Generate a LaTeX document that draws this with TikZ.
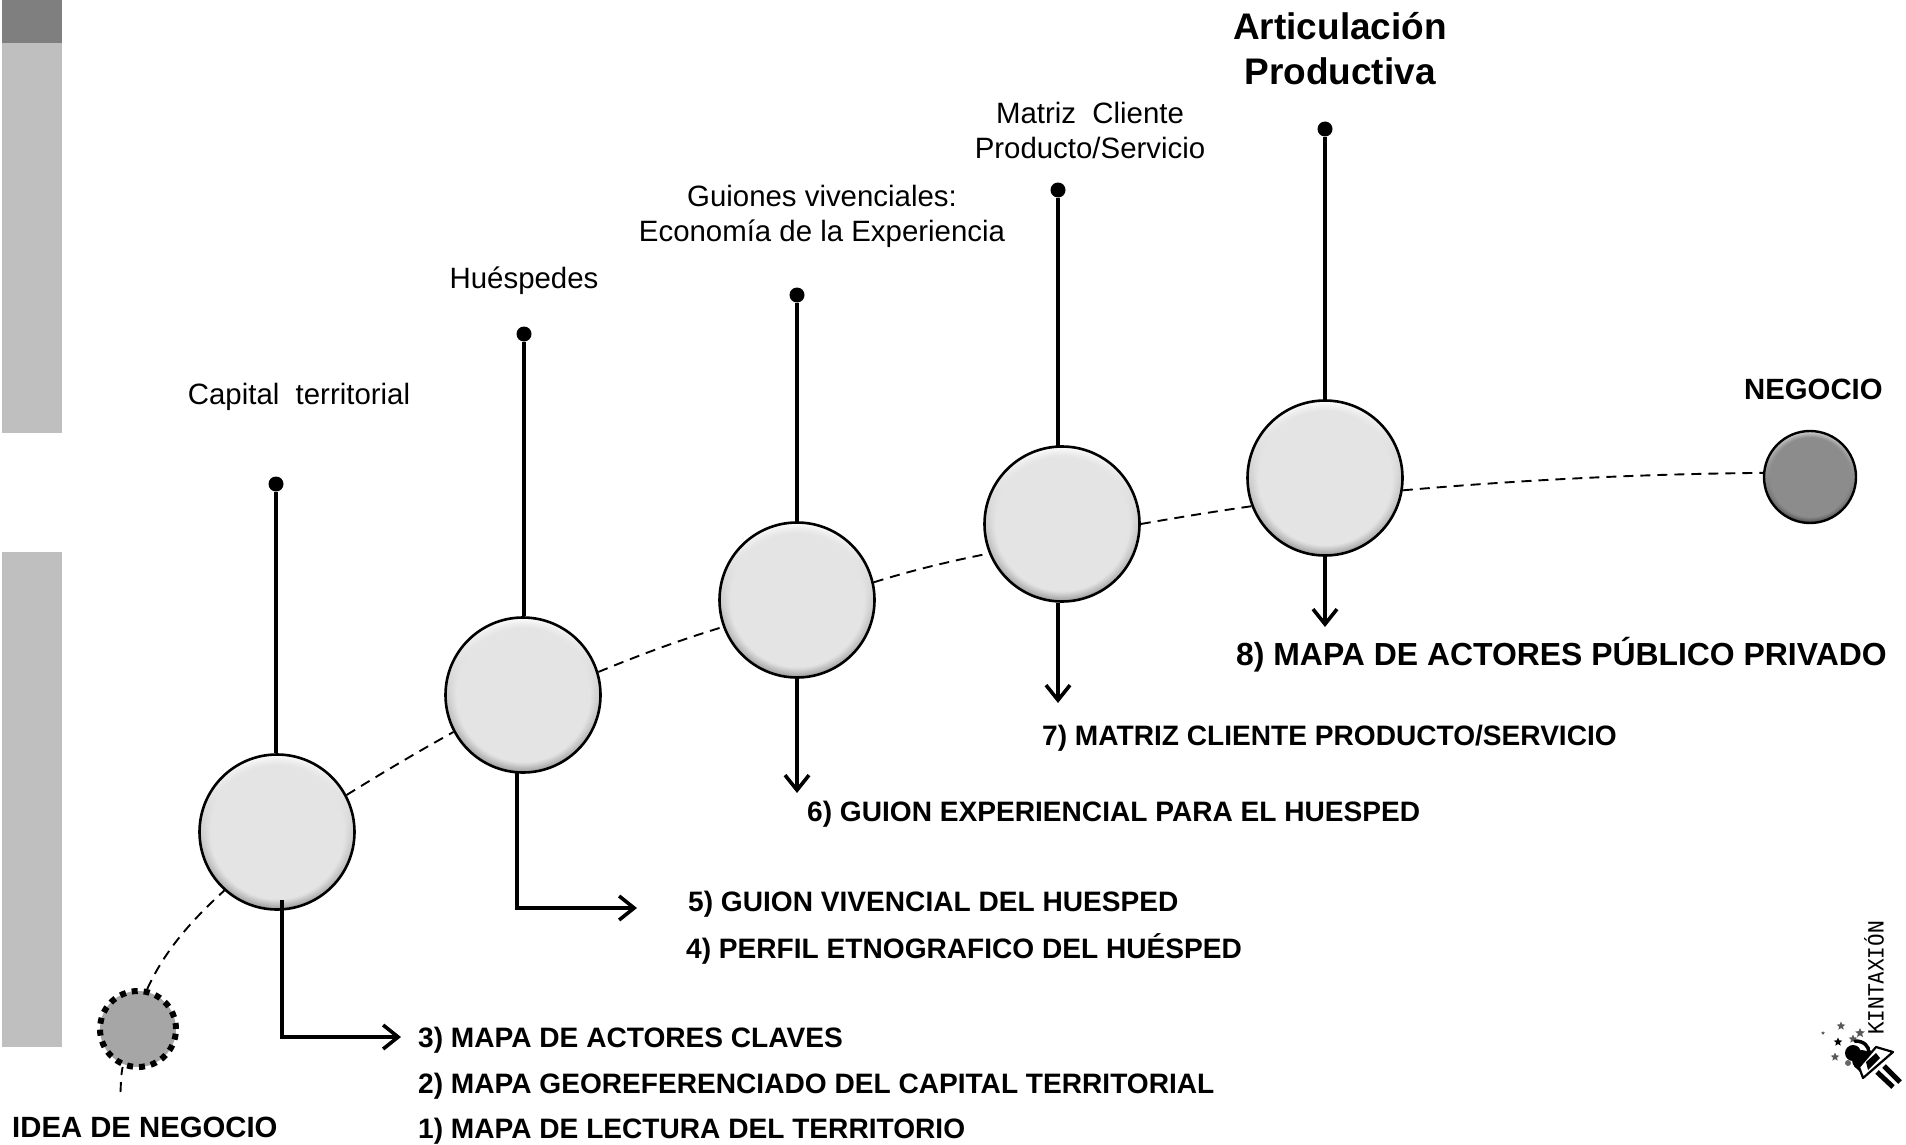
\documentclass[tikz,border=0pt]{standalone}
\usepackage{fontspec}
\setmainfont{Liberation Sans}
\newfontfamily\logofont{DejaVu Sans Mono}
\usetikzlibrary{arrows.meta,shapes.geometric,fadings,backgrounds}
\pgfdeclareradialshading{rimshade}{\pgfpointorigin}{color(0bp)=(pgftransparent!0);color(21.5bp)=(pgftransparent!0);color(25bp)=(pgftransparent!100);color(50bp)=(pgftransparent!100)}
\pgfdeclarefading{rim}{\pgfuseshading{rimshade}}
\definecolor{ballface}{HTML}{E4E4E4}
\definecolor{endface}{HTML}{8C8C8C}
\definecolor{ideaface}{HTML}{A6A6A6}
\definecolor{barlight}{HTML}{BFBFBF}
\definecolor{bardark}{HTML}{7F7F7F}
\tikzset{
  x=1pt,y=-1pt,
  ball/.style={circle,draw=black,line width=2.6pt,minimum size=155pt,inner sep=0pt,top color=white,bottom color=black!42,
    path picture={\fill[ballface,path fading=rim,fit fading=true] (path picture bounding box.south west) rectangle (path picture bounding box.north east);}},
  endball/.style={circle,draw=black,line width=2.4pt,minimum size=92pt,inner sep=0pt,top color=black!15,bottom color=black!75,
    path picture={\fill[endface,path fading=rim,fit fading=true] (path picture bounding box.south west) rectangle (path picture bounding box.north east);}},
  ideaball/.style={circle,fill=ideaface,draw=black,line width=6pt,dash pattern=on 6pt off 6pt,minimum size=76pt,inner sep=0pt},
  dot/.style={circle,fill=black,minimum size=15pt,inner sep=0pt},
  stem/.style={line width=3.4pt,black},
  arrowline/.style={line width=3.6pt,black,-{Straight Barb[length=15pt,width=24pt,line width=3.6pt]}},
  trail/.style={line width=1.9pt,black,dash pattern=on 10pt off 7pt},
  lab/.style={anchor=west,inner sep=0pt,font=\fontsize{28.1}{33}\selectfont\bfseries},
  note/.style={align=center,inner sep=0pt,font=\fontsize{29.4}{35}\selectfont},
  star1/.style={star,star points=5,star point ratio=2.2,fill=black!65,inner sep=0pt,minimum size=9pt},
}
\begin{document}
\begin{tikzpicture}
\useasboundingbox (0,0) rectangle (1906,1145);
\fill[white] (0,0) rectangle (1906,1145);
% side bars
\fill[bardark] (2,0) rectangle (62,43);
\fill[barlight] (2,43) rectangle (62,433);
\fill[barlight] (2,552) rectangle (62,1047);
% stops
\node[ball] (c1) at (277,832) {};
\node[ball] (c2) at (523,695) {};
\node[ball] (c3) at (797,600) {};
\node[ball] (c4) at (1062,524) {};
\node[ball] (c5) at (1325,478) {};
\node[endball] (goal) at (1810,477) {};
\node[ideaball] (idea) at (138,1029) {};
\coordinate (tail) at (120.5,1092);
% trail
\draw[trail] (tail) .. controls (121,1082) and (121,1075) .. (idea.248);
\draw[trail] (idea.77) .. controls (165,950) and (192,920) .. (c1.228);
\draw[trail] (c1.28) .. controls (382,773) and (414,754) .. (c2.208);
\draw[trail] (c2.17) .. controls (642,654) and (680,640) .. (c3.200);
\draw[trail] (c3.13) .. controls (913,570) and (951,561) .. (c4.202);
\draw[trail] (c4.0) .. controls (1175,518) and (1211,512) .. (c5.201);
\draw[trail] (c5.-9) .. controls (1520,480) and (1640,474) .. (goal.175);
% dots and stems
\node[dot] (d1) at (276,484) {};
\node[dot] (d2) at (524,334) {};
\node[dot] (d3) at (797,295) {};
\node[dot] (d4) at (1058,190) {};
\node[dot] (d5) at (1325,129) {};
\draw[stem] (d1) -- (d1 |- c1.north);
\draw[stem] (d2) -- (d2 |- c2.north);
\draw[stem] (d3) -- (d3 |- c3.north);
\draw[stem] (d4) -- (d4 |- c4.104);
\draw[stem] (d5) -- (c5.north);
% arrows
\coordinate (s1) at (282,900); \coordinate (e1) at (401,1037);
\coordinate (s2) at (517,771); \coordinate (e2) at (637,908);
\coordinate (e3) at (797,793);
\coordinate (e4) at (1058,703);
\coordinate (e5) at (1325,627);
\draw[arrowline] (s1) |- (e1);
\draw[arrowline] (s2) |- (e2);
\draw[arrowline] (c3.south) -- (e3);
\draw[arrowline] (c4.south -| e4) -- (e4);
\draw[arrowline] (c5.south) -- (e5);
% labels
\node[lab] (t3) at (418,1040) {3) MAPA DE ACTORES CLAVES};
\node[lab] (t2) at (418,1086) {2) MAPA GEOREFERENCIADO DEL CAPITAL TERRITORIAL};
\node[lab] (t1) at (418,1131) {1) MAPA DE LECTURA DEL TERRITORIO};
\node[lab] (t5) at (688,904) {5) GUION VIVENCIAL DEL HUESPED};
\node[lab] (t4) at (686,949) {4) PERFIL ETNOGRAFICO DEL HUÉSPED};
\node[lab] (t6) at (807,814) {6) GUION EXPERIENCIAL PARA EL HUESPED};
\node[lab] (t7) at (1042,738) {7) MATRIZ CLIENTE PRODUCTO/SERVICIO};
\node[lab,font=\fontsize{31.9}{36}\selectfont\bfseries] (t8) at (1236,655) {8) MAPA DE ACTORES PÚBLICO PRIVADO};
\node[lab,font=\fontsize{29.3}{33}\selectfont\bfseries] (tidea) at (12,1127) {IDEA DE NEGOCIO};
\node[lab,font=\fontsize{29.3}{33}\selectfont\bfseries] (tgoal) at (1744,389) {NEGOCIO};
\node[note] (n1) at (299,397) {Capital\ \ territorial};
\node[note] (n2) at (524,281) {Huéspedes};
\node[note] (n3) at (822,216) {Guiones vivenciales:\\Economía de la Experiencia};
\node[note] (n4) at (1090,130) {Matriz\ \ Cliente\\Producto/Servicio};
\node[note,font=\fontsize{37}{45}\selectfont\bfseries] (n5) at (1340,49) {Articulación\\Productiva};
% logo
\node[rotate=90,inner sep=0pt,font=\logofont\fontsize{21}{21}\selectfont] (logo) at (1874,978) {KINTAXIÓN};
\node[star1] (st1) at (1841,1026) {};
\node[star1,minimum size=4pt] (st2) at (1823,1033) {};
\node[star1,minimum size=10pt] (st3) at (1860,1033) {};
\node[star1] (st4) at (1853,1039) {};
\node[star1,fill=black] (st5) at (1838,1042) {};
\node[star1] (st6) at (1835,1057) {};
\draw[line width=3.5pt,line cap=round] (1855,1041) .. controls (1864,1041) and (1869,1046) .. (1869,1053);
\fill[black] (1853,1053) circle (8pt);
\fill[black] (1862,1060) circle (10pt);
\fill[black] (1870,1050) -- (1878,1060) -- (1862,1074) -- (1854,1066) -- cycle;
\draw[line width=2.2pt,fill=white,line join=round] (1876,1047) -- (1893,1052) -- (1863,1078) -- (1859,1067) -- cycle;
\fill[black] (1866,1062) -- (1876,1053) -- (1880,1058) -- (1868,1070) -- cycle;
\draw[line width=5pt] (1884,1066) -- (1900,1082);
\draw[line width=5pt] (1877,1072) -- (1893,1087);
\fill[black!60] (1848,1063) circle (3pt);
\end{tikzpicture}
\end{document}
